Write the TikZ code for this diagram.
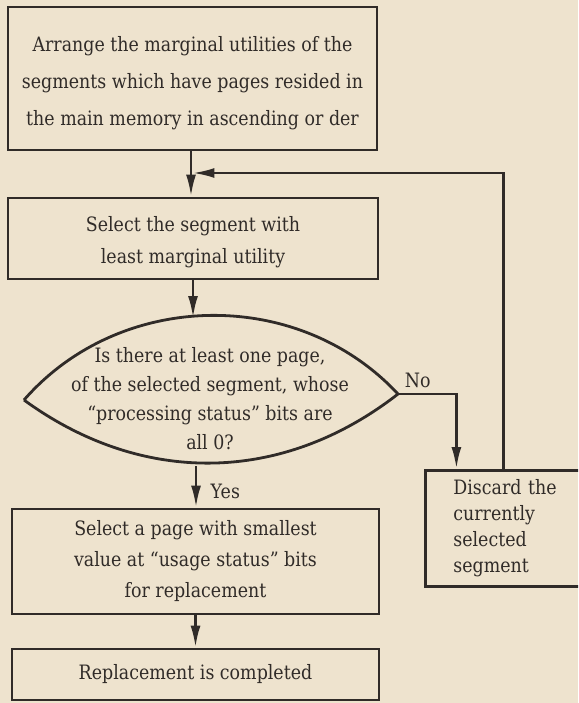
\documentclass[tikz,border=0pt]{standalone}
\usepackage{fontspec}
\setmainfont[FakeStretch=0.88]{DejaVu Serif}
\usetikzlibrary{arrows.meta, positioning}
\definecolor{paper}{RGB}{238,227,206}
\definecolor{ink}{RGB}{48,43,40}

\begin{document}
\begin{tikzpicture} [
    x=1pt, y=-1pt,
    every node/.style = {text=ink, align=center, font=\fontsize{19.8}{32}\selectfont},
    box/.style = {draw=ink, line width=2.8pt, inner sep=0pt},
    flow/.style = {draw=ink, line width=2.8pt, -{Latex[length=22pt,width=10pt]}}
]
    \fill[paper] (0,0) rectangle (578,703);
    \clip (0,0) rectangle (578,703);

    \node[box, minimum width=369pt, minimum height=143pt] (arrange) at (192.5,78.5) {};
    \node[font=\fontsize{19.8}{37}\selectfont] (arrangeText) at (192.5,83)
        {Arrange the marginal utilities of the\\
         segments which have pages resided in\\
         the main memory in ascending or der};
    \node[box, minimum width=370pt, minimum height=81pt] (select) at (193,238.5) {};
    \node (selectText) at (193,242.5)
        {Select the segment with\\ least marginal utility};

    % lens shaped decision
    \coordinate (lensL) at (24,400);
    \coordinate (lensR) at (398,394);
    \coordinate (lensT) at (193,318);
    \coordinate (lensB) at (196,466);
    \draw[ink, line width=2.8pt] (lensL) to[bend left=48] (lensR) to[bend left=37] (lensL);
    \node[font=\fontsize{19.8}{29}\selectfont] (test) at (210,399)
        {Is there at least one page,\\
         of the selected segment, whose\\
         “processing status” bits are\\
         all 0?};

    \node[box, minimum width=367pt, minimum height=105pt, font=\fontsize{19.8}{31}\selectfont]
        (page) at (195.5,561.5)
        {Select a page with smallest\\
         value at “usage status” bits\\
         for replacement};
    \node[box, minimum width=367pt, minimum height=51pt] (done) at (195.5,674.5)
        {Replacement is completed};
    \node[box, anchor=north west, inner xsep=28pt, text width=122pt, align=left,
          minimum height=116pt, font=\fontsize{19.8}{26}\selectfont] (discard) at (424,469)
        {Discard the\\ currently\\ selected\\ segment};

    \coordinate (join) at (191,173);
    \draw[flow] (arrange.south -| join) -- (select.north -| join);
    \draw[flow] ([xshift=-11pt]discard.north) |- ([xshift=1.4pt]join);
    \draw[flow] (select.south) -- (lensT);
    \draw[flow] (lensR) -| ([xshift=-58pt]discard.north) node[above, pos=0.17, yshift=1pt] {No};
    \draw[flow] (lensB) -- (lensB |- page.north) node[right, pos=0.62, xshift=10pt] {Yes};
    \draw[flow] (page.south) -- (done.north);
\end{tikzpicture}
\end{document}
